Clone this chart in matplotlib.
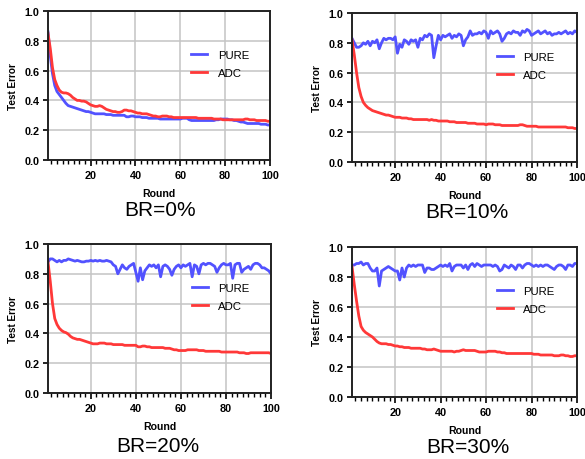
import matplotlib
matplotlib.use("Agg")
import matplotlib.pyplot as plt
from matplotlib.ticker import MultipleLocator, FixedLocator

plt.rcParams['font.family'] = ['Liberation Sans', 'DejaVu Sans']

rounds = list(range(1, 101))

pure_0 = [0.86, 0.70, 0.58, 0.50, 0.46, 0.44, 0.42, 0.40, 0.38, 0.365,
          0.36, 0.355, 0.35, 0.345, 0.34, 0.335, 0.33, 0.325, 0.325, 0.32,
          0.315, 0.31, 0.31, 0.31, 0.31, 0.31, 0.305, 0.305, 0.305, 0.30,
          0.30, 0.30, 0.30, 0.30, 0.30, 0.29, 0.29, 0.295, 0.295, 0.29,
          0.29, 0.29, 0.285, 0.285, 0.285, 0.28, 0.28, 0.28, 0.28, 0.28,
          0.275, 0.275, 0.275, 0.275, 0.275, 0.275, 0.275, 0.275, 0.275, 0.275,
          0.28, 0.28, 0.28, 0.27, 0.265, 0.265, 0.265, 0.265, 0.265, 0.265,
          0.265, 0.265, 0.265, 0.265, 0.265, 0.27, 0.27, 0.275, 0.275, 0.275,
          0.275, 0.27, 0.27, 0.265, 0.265, 0.26, 0.255, 0.255, 0.25, 0.245,
          0.245, 0.245, 0.245, 0.245, 0.245, 0.24, 0.24, 0.24, 0.235, 0.235]

adc_0 = [0.85, 0.75, 0.62, 0.54, 0.50, 0.47, 0.455, 0.45, 0.45, 0.445,
         0.435, 0.42, 0.41, 0.40, 0.40, 0.395, 0.395, 0.39, 0.38, 0.37,
         0.365, 0.36, 0.36, 0.365, 0.36, 0.35, 0.34, 0.335, 0.33, 0.325,
         0.325, 0.32, 0.32, 0.325, 0.335, 0.335, 0.33, 0.33, 0.325, 0.32,
         0.315, 0.315, 0.31, 0.31, 0.31, 0.305, 0.30, 0.295, 0.295, 0.29,
         0.29, 0.295, 0.295, 0.295, 0.29, 0.29, 0.285, 0.285, 0.285, 0.285,
         0.285, 0.285, 0.285, 0.285, 0.285, 0.285, 0.285, 0.28, 0.28, 0.28,
         0.28, 0.28, 0.28, 0.28, 0.275, 0.275, 0.275, 0.275, 0.27, 0.27,
         0.27, 0.27, 0.27, 0.27, 0.27, 0.27, 0.27, 0.27, 0.275, 0.275,
         0.27, 0.27, 0.27, 0.265, 0.265, 0.265, 0.265, 0.265, 0.26, 0.26]

pure_10 = [0.83, 0.80, 0.77, 0.77, 0.78, 0.80, 0.79, 0.81, 0.78, 0.81,
           0.80, 0.82, 0.76, 0.80, 0.83, 0.82, 0.83, 0.83, 0.82, 0.84,
           0.73, 0.79, 0.77, 0.82, 0.81, 0.79, 0.82, 0.81, 0.82, 0.77,
           0.83, 0.82, 0.85, 0.84, 0.86, 0.85, 0.70, 0.78, 0.85, 0.82,
           0.85, 0.84, 0.85, 0.86, 0.83, 0.85, 0.84, 0.86, 0.85, 0.78,
           0.82, 0.84, 0.88, 0.85, 0.86, 0.86, 0.87, 0.86, 0.88, 0.87,
           0.83, 0.88, 0.86, 0.87, 0.88, 0.86, 0.81, 0.83, 0.86, 0.87,
           0.86, 0.88, 0.87, 0.87, 0.85, 0.88, 0.87, 0.89, 0.88, 0.85,
           0.86, 0.87, 0.88, 0.86, 0.87, 0.88, 0.86, 0.87, 0.85, 0.86,
           0.86, 0.87, 0.86, 0.87, 0.88, 0.86, 0.87, 0.86, 0.88, 0.87]

adc_10 = [0.82, 0.72, 0.60, 0.50, 0.44, 0.40, 0.38, 0.365, 0.355, 0.345,
          0.34, 0.335, 0.33, 0.325, 0.32, 0.315, 0.315, 0.31, 0.305, 0.30,
          0.30, 0.30, 0.295, 0.295, 0.295, 0.29, 0.29, 0.285, 0.285, 0.285,
          0.285, 0.285, 0.285, 0.285, 0.28, 0.285, 0.28, 0.28, 0.275, 0.275,
          0.275, 0.275, 0.275, 0.27, 0.27, 0.27, 0.265, 0.265, 0.265, 0.265,
          0.265, 0.26, 0.26, 0.26, 0.26, 0.255, 0.255, 0.255, 0.255, 0.25,
          0.255, 0.255, 0.255, 0.25, 0.25, 0.25, 0.245, 0.245, 0.245, 0.245,
          0.245, 0.245, 0.245, 0.245, 0.25, 0.25, 0.245, 0.24, 0.24, 0.24,
          0.24, 0.24, 0.235, 0.235, 0.235, 0.235, 0.235, 0.235, 0.235, 0.235,
          0.235, 0.235, 0.235, 0.235, 0.235, 0.23, 0.23, 0.23, 0.225, 0.225]

pure_20 = [0.88, 0.90, 0.90, 0.89, 0.88, 0.89, 0.88, 0.89, 0.89, 0.90,
           0.895, 0.89, 0.885, 0.89, 0.885, 0.88, 0.88, 0.885, 0.885, 0.89,
           0.885, 0.89, 0.885, 0.89, 0.885, 0.885, 0.89, 0.885, 0.88, 0.86,
           0.85, 0.80, 0.83, 0.86, 0.84, 0.83, 0.85, 0.86, 0.87, 0.81,
           0.75, 0.84, 0.76, 0.82, 0.84, 0.86, 0.85, 0.86, 0.84, 0.86,
           0.78, 0.85, 0.86, 0.85, 0.83, 0.79, 0.83, 0.85, 0.86, 0.84,
           0.86, 0.85, 0.86, 0.87, 0.78, 0.86, 0.85, 0.80, 0.86, 0.87,
           0.86, 0.87, 0.87, 0.86, 0.85, 0.81, 0.84, 0.86, 0.87, 0.86,
           0.86, 0.87, 0.77, 0.86, 0.87, 0.87, 0.81, 0.83, 0.84, 0.85,
           0.83, 0.86, 0.87, 0.87, 0.86, 0.84, 0.84, 0.83, 0.82, 0.80]

adc_20 = [0.88, 0.75, 0.60, 0.50, 0.46, 0.435, 0.42, 0.41, 0.405, 0.395,
          0.38, 0.37, 0.365, 0.36, 0.36, 0.355, 0.35, 0.345, 0.34, 0.335,
          0.33, 0.33, 0.33, 0.335, 0.335, 0.335, 0.33, 0.33, 0.33, 0.325,
          0.325, 0.325, 0.325, 0.325, 0.32, 0.32, 0.32, 0.32, 0.32, 0.32,
          0.31, 0.31, 0.315, 0.315, 0.31, 0.31, 0.305, 0.305, 0.305, 0.305,
          0.305, 0.305, 0.30, 0.30, 0.30, 0.295, 0.29, 0.29, 0.285, 0.285,
          0.285, 0.285, 0.29, 0.29, 0.29, 0.29, 0.29, 0.285, 0.285, 0.285,
          0.28, 0.28, 0.28, 0.28, 0.28, 0.28, 0.28, 0.275, 0.275, 0.275,
          0.275, 0.275, 0.275, 0.275, 0.275, 0.27, 0.27, 0.27, 0.265, 0.265,
          0.27, 0.27, 0.27, 0.27, 0.27, 0.27, 0.27, 0.27, 0.27, 0.265]

pure_30 = [0.88, 0.88, 0.89, 0.89, 0.90, 0.88, 0.89, 0.89, 0.86, 0.84,
           0.84, 0.86, 0.74, 0.84, 0.85, 0.86, 0.87, 0.86, 0.85, 0.84,
           0.84, 0.78, 0.86, 0.80, 0.86, 0.88, 0.87, 0.88, 0.87, 0.88,
           0.88, 0.88, 0.83, 0.86, 0.86, 0.85, 0.85, 0.86, 0.87, 0.88,
           0.87, 0.88, 0.87, 0.89, 0.84, 0.87, 0.88, 0.88, 0.88, 0.86,
           0.88, 0.85, 0.88, 0.89, 0.87, 0.89, 0.88, 0.87, 0.88, 0.88,
           0.88, 0.88, 0.87, 0.88, 0.87, 0.84, 0.85, 0.88, 0.87, 0.86,
           0.88, 0.87, 0.85, 0.88, 0.88, 0.86, 0.88, 0.89, 0.89, 0.88,
           0.87, 0.88, 0.87, 0.88, 0.87, 0.88, 0.88, 0.87, 0.86, 0.85,
           0.87, 0.88, 0.88, 0.87, 0.85, 0.88, 0.88, 0.87, 0.89, 0.89]

adc_30 = [0.87, 0.75, 0.64, 0.54, 0.47, 0.445, 0.43, 0.42, 0.41, 0.40,
          0.385, 0.37, 0.36, 0.355, 0.355, 0.355, 0.35, 0.35, 0.345, 0.34,
          0.34, 0.335, 0.335, 0.33, 0.33, 0.33, 0.325, 0.325, 0.325, 0.325,
          0.325, 0.32, 0.32, 0.315, 0.315, 0.315, 0.32, 0.315, 0.31, 0.305,
          0.305, 0.305, 0.305, 0.305, 0.305, 0.30, 0.305, 0.305, 0.31, 0.315,
          0.31, 0.31, 0.31, 0.31, 0.31, 0.305, 0.30, 0.30, 0.30, 0.30,
          0.305, 0.305, 0.305, 0.305, 0.30, 0.30, 0.295, 0.295, 0.29, 0.29,
          0.29, 0.29, 0.29, 0.29, 0.29, 0.29, 0.29, 0.29, 0.29, 0.29,
          0.285, 0.285, 0.285, 0.28, 0.28, 0.28, 0.28, 0.28, 0.28, 0.275,
          0.275, 0.275, 0.28, 0.28, 0.275, 0.275, 0.27, 0.27, 0.275, 0.275]

titles = ["BR=0%", "BR=10%", "BR=20%", "BR=30%"]
pure_series = [pure_0, pure_10, pure_20, pure_30]
adc_series = [adc_0, adc_10, adc_20, adc_30]

W, H = 585, 460
fig = plt.figure(figsize=(W / 100, H / 100), dpi=100)

# axes boxes in pixels: left, right, top, bottom
boxes = [(48, 270, 12, 161), (352, 577, 14, 163),
         (48, 271, 245, 394), (352, 577, 248, 398)]
title_pos = [(160, 210), (467, 213), (158, 447), (468, 448)]

blue = '#5252ff'
red = '#ff3838'

for i in range(4):
    l, r, t, b = boxes[i]
    ax = fig.add_axes([l / W, 1 - b / H, (r - l) / W, (b - t) / H])
    ax.plot(rounds, pure_series[i], color=blue, lw=2.0, label='PURE')
    ax.plot(rounds, adc_series[i], color=red, lw=2.0, label='ADC')
    ax.set_xlim(1, 100)
    ax.set_ylim(0, 1.0)
    ax.xaxis.set_major_locator(FixedLocator([20, 40, 60, 80, 100]))
    ax.xaxis.set_minor_locator(MultipleLocator(2.5))
    ax.yaxis.set_major_locator(MultipleLocator(0.2))
    ax.yaxis.set_major_formatter(plt.FuncFormatter(lambda v, p: f"{v:.1f}"))
    ax.grid(True, which='major', color='#c4c4c4', lw=1.1)
    ax.set_axisbelow(True)
    for s in ax.spines.values():
        s.set_linewidth(1.4)
        s.set_color('#222222')
    ax.tick_params(axis='both', which='major', direction='out', length=4.5,
                   width=1.2, labelsize=7.8, pad=2.5)
    ax.tick_params(axis='y', which='major', length=3.5)
    ax.tick_params(axis='x', which='minor', direction='out', length=3, width=1.0)
    for lab in ax.get_xticklabels() + ax.get_yticklabels():
        lab.set_fontweight('bold')
    ax.set_xlabel('Round', fontsize=7.6, fontweight='bold', labelpad=6)
    ax.set_ylabel('Test Error', fontsize=7.2, fontweight='bold', labelpad=5)
    ax.legend(loc='upper left', bbox_to_anchor=(0.6, 0.81), frameon=False,
              fontsize=8.2, handlelength=1.4, handletextpad=0.9, labelspacing=0.75)
    tx, ty = title_pos[i]
    fig.text(tx / W, 1 - ty / H, titles[i], ha='center', va='center', fontsize=15)

fig.savefig('out.png', dpi=100)
